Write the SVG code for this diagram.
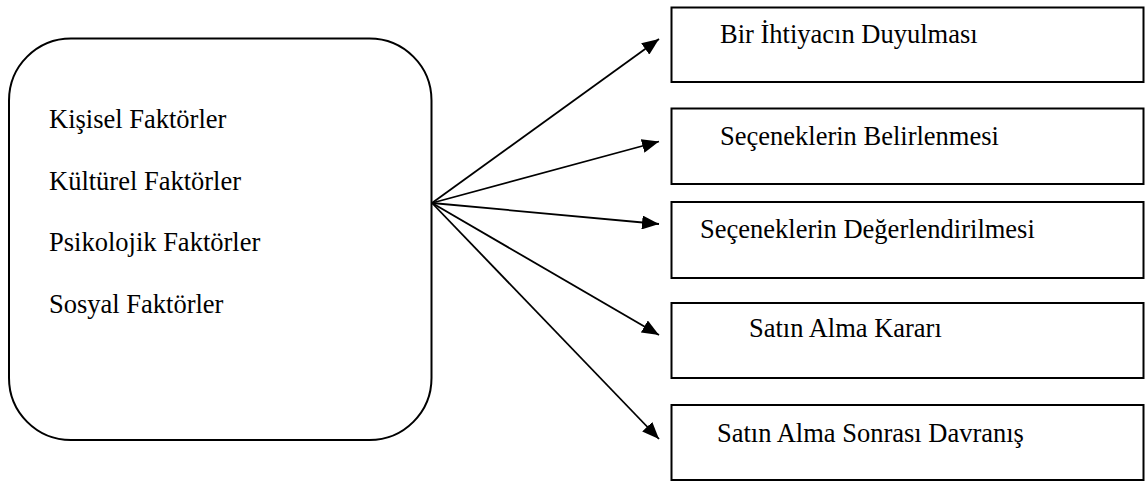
<svg xmlns="http://www.w3.org/2000/svg" width="1147" height="483" viewBox="0 0 1147 483">
<style>
.box{fill:#fff;stroke:#000;stroke-width:2}
.lbl{font-family:"Liberation Serif","Times New Roman",serif;font-size:26.5px;fill:#000}
.conn{stroke:#000;stroke-width:1.8;fill:none;marker-end:url(#ah)}
</style>
<defs>
<marker id="ah" markerUnits="userSpaceOnUse" markerWidth="18" markerHeight="14" viewBox="0 0 18 14" refX="17" refY="7" orient="auto">
<path d="M0,0 L17,7 L0,14 Z" fill="#000"/>
</marker>
</defs>
<g id="factors">
<rect class="box" x="9" y="38.5" width="422.5" height="401.5" rx="62" ry="62"/>
<text class="lbl" x="49" y="128">Kişisel Faktörler</text>
<text class="lbl" x="49" y="190">Kültürel Faktörler</text>
<text class="lbl" x="49" y="251">Psikolojik Faktörler</text>
<text class="lbl" x="49" y="313">Sosyal Faktörler</text>
</g>
<g id="connectors">
<line class="conn" x1="432" y1="203" x2="659" y2="39"/>
<line class="conn" x1="432" y1="203" x2="659" y2="141.5"/>
<line class="conn" x1="432" y1="203" x2="659" y2="224"/>
<line class="conn" x1="432" y1="203" x2="659" y2="335"/>
<line class="conn" x1="432" y1="203" x2="659" y2="439"/>
</g>
<g id="step1">
<rect class="box" x="671.5" y="7.5" width="472" height="74.5"/>
<text class="lbl" x="720" y="43">Bir İhtiyacın Duyulması</text>
</g>
<g id="step2">
<rect class="box" x="671.5" y="108.5" width="472" height="75.5"/>
<text class="lbl" x="720" y="145">Seçeneklerin Belirlenmesi</text>
</g>
<g id="step3">
<rect class="box" x="671.5" y="202" width="472" height="76"/>
<text class="lbl" x="700" y="238">Seçeneklerin Değerlendirilmesi</text>
</g>
<g id="step4">
<rect class="box" x="671.5" y="303" width="472" height="75"/>
<text class="lbl" x="749" y="337">Satın Alma Kararı</text>
</g>
<g id="step5">
<rect class="box" x="671.5" y="405" width="472" height="75"/>
<text class="lbl" x="717" y="442">Satın Alma Sonrası Davranış</text>
</g>
</svg>
